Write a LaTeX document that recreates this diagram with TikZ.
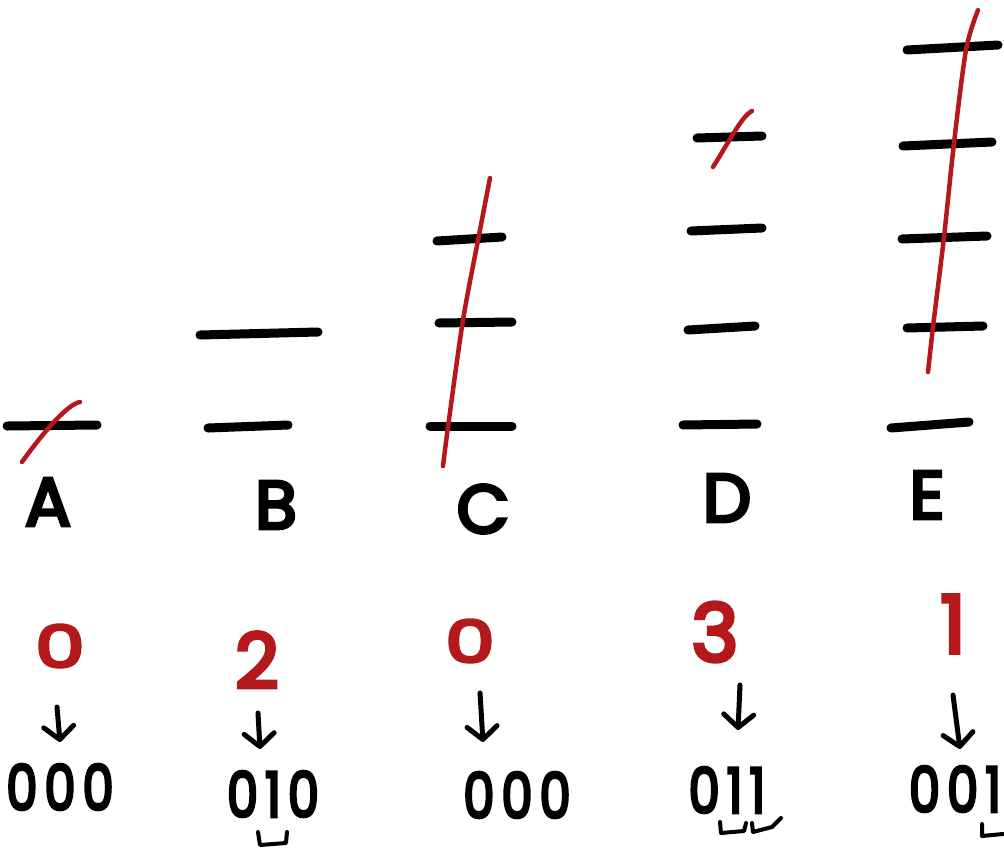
\documentclass[tikz,border=0pt]{standalone}
\usepackage{fontspec}
\setmainfont{Poppins}
\newfontfamily\hand{Poppins}[FakeBold=5]
\newfontfamily\handspaced{Poppins}[FakeBold=5, LetterSpace=14]
\usetikzlibrary{arrows.meta}
\definecolor{inkred}{RGB}{180,24,26}
\newcommand{\narrow}[1]{\scalebox{0.8}[1]{#1}}
\newcommand{\widezero}[1]{\scalebox{1.35}[1]{#1}}
\tikzset{
  bar/.style={line width=9pt, line cap=round, black},
  redline/.style={line width=4.5pt, line cap=round, inkred},
  letter/.style={inner sep=0pt, font=\fontsize{68}{70}\selectfont\hand},
  rednum/.style={inner sep=0pt, text=inkred, font=\fontsize{#1}{#1}\selectfont\hand},
  bits/.style={inner sep=0pt, font=\fontsize{62}{64}\selectfont\handspaced},
  downarrow/.style={line width=5pt, line cap=round, -{Straight Barb[round,length=13pt,width=30pt]}},
  ubracket/.style={line width=4pt, line cap=round, line join=round},
}
\begin{document}
\begin{tikzpicture}[x=1pt,y=-1pt]
\useasboundingbox (0,0) rectangle (1004,849);
% bars
\draw[bar] (7,426) -- (97,425);
\draw[bar] (200,335) -- (318,332);
\draw[bar] (208,428) -- (288,425);
\draw[bar] (437,241) -- (502,237);
\draw[bar] (439,323) -- (512,322);
\draw[bar] (430,426) -- (512,426);
\draw[bar] (697,138) -- (762,136);
\draw[bar] (691,231) -- (762,228);
\draw[bar] (688,330) -- (755,326);
\draw[bar] (683,425) -- (757,424);
\draw[bar] (907,50) -- (998,45);
\draw[bar] (903,146) -- (992,142);
\draw[bar] (902,239) -- (987,236);
\draw[bar] (907,328) -- (983,326);
\draw[bar] (891,428) -- (969,422);
% red strikes
\draw[redline] (22,462) .. controls (45,430) and (68,404) .. (80,402);
\draw[redline] plot[smooth] coordinates {(443,466) (448,427) (463,320) (480,230) (490,178)};
\draw[redline] (713,167) .. controls (730,140) and (742,116) .. (752,111);
\draw[redline] plot[smooth] coordinates {(928,372) (933,327) (944,237) (954,143) (966,50) (978,10)};
% letters
\node[letter] (lA) at (48,502) {A};
\node[letter] (lB) at (276,505) {B};
\node[letter] (lC) at (483,509) {C};
\node[letter] (lD) at (727,498) {D};
\node[letter] (lE) at (927,495) {E};
% red counts
\node[rednum=58] (nA) at (60,646) {\widezero{0}};
\node[rednum=76] (nB) at (257,660) {2};
\node[rednum=58] (nC) at (470,641) {\widezero{0}};
\node[rednum=80] (nD) at (715,632) {3};
\node[rednum=80] (nE) at (953,624) {1};
% binary
\node[bits] (bA) at (60,787) {\narrow{000}};
\node[bits] (bB) at (273,794) {\narrow{010}};
\node[bits] (bC) at (517,795) {\narrow{000}};
\node[bits] (bD) at (727,790) {\narrow{011}};
\node[bits] (bE) at (955,789) {\narrow{001}};
% arrow ends
\coordinate (aA1) at (57,707); \coordinate (aA2) at (60,742);
\coordinate (aB1) at (258,713); \coordinate (aB2) at (260,749);
\coordinate (aC1) at (480,693); \coordinate (aC2) at (483,742);
\coordinate (aD1) at (740,685); \coordinate (aD2) at (738,730);
\coordinate (aE1) at (953,695); \coordinate (aE2) at (960,749);
\draw[downarrow] (aA1) -- (aA2);
\draw[downarrow] (aB1) -- (aB2);
\draw[downarrow] (aC1) -- (aC2);
\draw[downarrow] (aD1) -- (aD2);
\draw[downarrow] (aE1) -- (aE2);
% underbrackets
\draw[ubracket] (258,832) -- (260,845) -- (286,843) -- (287,832);
\draw[ubracket] (720,822) -- (721,833) -- (744,831) -- (746,823);
\draw[ubracket] (752,823) -- (753,832) -- (772,827) -- (781,818);
\draw[ubracket] (982,824) -- (982,836) -- (1003,834);
\end{tikzpicture}
\end{document}
